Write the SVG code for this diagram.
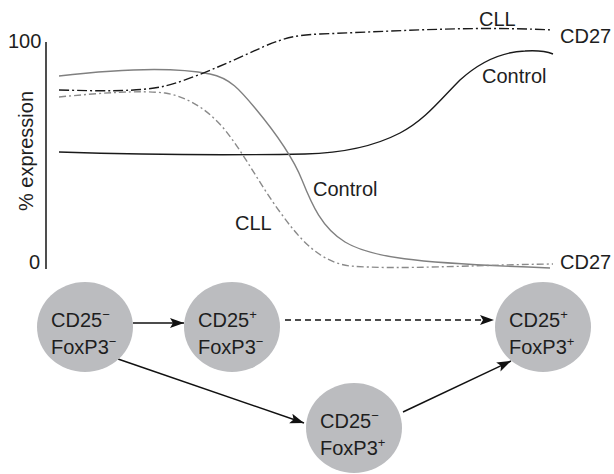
<svg xmlns="http://www.w3.org/2000/svg" width="614" height="474" viewBox="0 0 614 474">
  <defs>
    <marker id="arrow" markerUnits="userSpaceOnUse" markerWidth="15" markerHeight="11" refX="14" refY="5" orient="auto">
      <path d="M0,0 L14,5 L0,10 L3,5 Z" fill="#111"/>
    </marker>
  </defs>
  <style>
    text { font-family: "Liberation Sans", Arial, Helvetica, sans-serif; fill: #1e1e1e; }
    .lbl { font-size: 20px; }
    .node-text { font-size: 20px; }
    .sup { font-size: 13px; }
    .axis { stroke: #222; stroke-width: 1.6; fill: none; }
    .curve { fill: none; stroke-width: 1.4; }
    .ctl-up { stroke: #1a1a1a; }
    .ctl-down { stroke: #808080; }
    .cll-up { stroke: #1a1a1a; stroke-dasharray: 10 3 2 3; }
    .cll-down { stroke: #8a8a8a; stroke-dasharray: 7 3 2 3; }
    .cell { fill: #bbbcbf; }
    .edge { stroke: #111; stroke-width: 1.5; fill: none; marker-end: url(#arrow); }
    .dashed { stroke-dasharray: 6 4; }
  </style>

  <!-- expression plot -->
  <g id="plot">
    <line class="axis" x1="46" y1="42" x2="46" y2="269"/>
    <text class="lbl" x="8" y="48">100</text>
    <text class="lbl" x="29" y="269">0</text>
    <text class="lbl" transform="translate(33,151) rotate(-90)" text-anchor="middle">% expression</text>

    <path class="curve ctl-up" d="M59,152 C150,155 250,155 305,154 C345,153 375,146 400,133 C425,120 440,100 460,80 C480,62 500,52 525,51 C540,50 548,52 553,54"/>
    <path class="curve ctl-down" d="M59,76 C110,70 170,66 210,74 C230,78 240,90 255,108 C275,132 292,155 302,180 C312,205 322,228 345,242 C370,257 410,263 550,268"/>
    <path class="curve cll-up" d="M59,90 C100,91 140,92 165,86 C190,80 230,62 265,46 C285,38 295,35 320,34 C400,31 470,26 553,30"/>
    <path class="curve cll-down" d="M59,97 C100,93 140,90 165,93 C190,97 210,112 225,130 C245,155 260,185 280,212 C300,240 320,262 350,266 C400,270 470,265 553,264"/>

    <text class="lbl" x="479" y="26">CLL</text>
    <text class="lbl" x="560" y="43">CD27</text>
    <text class="lbl" x="482" y="83">Control</text>
    <text class="lbl" x="313" y="196">Control</text>
    <text class="lbl" x="235" y="230">CLL</text>
    <text class="lbl" x="560" y="269">CD27</text>
  </g>

  <!-- cell-state transitions -->
  <g id="connectors">
    <line class="edge" x1="133" y1="323" x2="184" y2="323"/>
    <line class="edge dashed" x1="285" y1="320" x2="494" y2="320"/>
    <line class="edge" x1="118" y1="359" x2="304" y2="423"/>
    <line class="edge" x1="403" y1="412" x2="511" y2="361"/>
  </g>

  <g id="node-dn-dn">
    <ellipse class="cell" cx="85" cy="327" rx="48" ry="45"/>
    <text class="node-text" x="51" y="327">CD25<tspan class="sup" dy="-8">−</tspan></text>
    <text class="node-text" x="51" y="354">FoxP3<tspan class="sup" dy="-8">−</tspan></text>
  </g>
  <g id="node-up-dn">
    <ellipse class="cell" cx="232" cy="327" rx="48" ry="45"/>
    <text class="node-text" x="198" y="327">CD25<tspan class="sup" dy="-8">+</tspan></text>
    <text class="node-text" x="198" y="354">FoxP3<tspan class="sup" dy="-8">−</tspan></text>
  </g>
  <g id="node-up-up">
    <ellipse class="cell" cx="543" cy="327" rx="48" ry="45"/>
    <text class="node-text" x="509" y="327">CD25<tspan class="sup" dy="-8">+</tspan></text>
    <text class="node-text" x="509" y="354">FoxP3<tspan class="sup" dy="-8">+</tspan></text>
  </g>
  <g id="node-dn-up">
    <ellipse class="cell" cx="354" cy="428" rx="48" ry="45"/>
    <text class="node-text" x="320" y="428">CD25<tspan class="sup" dy="-8">−</tspan></text>
    <text class="node-text" x="320" y="455">FoxP3<tspan class="sup" dy="-8">+</tspan></text>
  </g>
</svg>
